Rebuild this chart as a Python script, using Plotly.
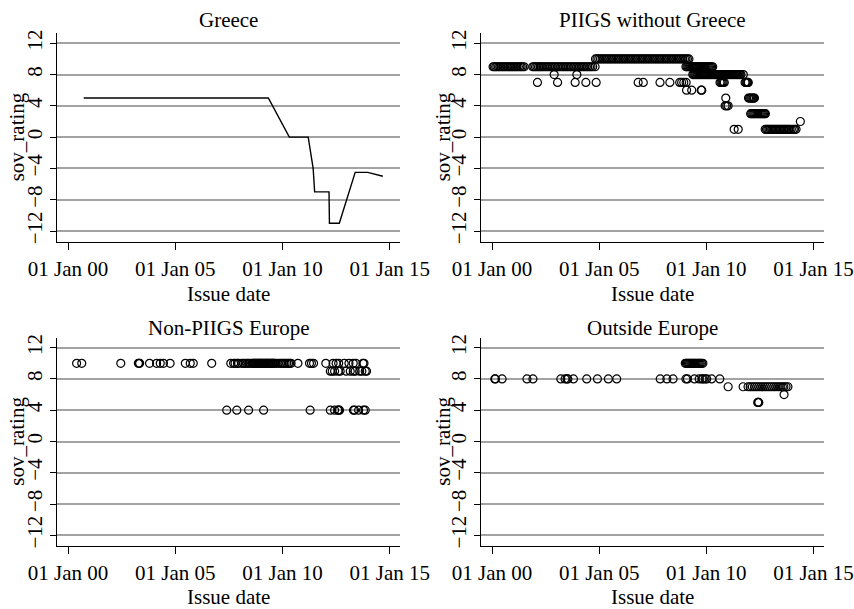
import plotly.graph_objects as go
import pandas as pd

# ---------------- data (years since 01 Jan 2000, sovereign rating) ----------------
greece_years = [0.73, 1.5, 2.2, 3.0, 3.8, 4.6, 5.5, 6.4, 7.3, 8.2, 9.34,
                10.32, 11.2, 11.43, 11.5, 12.17, 12.19, 12.65, 13.39, 13.98, 14.68]
greece_rating = [5, 5, 5, 5, 5, 5, 5, 5, 5, 5, 5,
                 0, 0, -4, -7, -7, -11, -11, -4.5, -4.5, -5]

# PIIGS without Greece
piigs_r10 = [4.83, 4.9, 4.98, 5.06, 5.14, 5.22, 5.3, 5.38, 5.46, 5.54, 5.62, 5.7, 5.78,
             5.86, 5.94, 6.02, 6.1, 6.18, 6.26, 6.34, 6.42, 6.5, 6.58, 6.66, 6.74, 6.82,
             6.9, 6.98, 7.06, 7.14, 7.22, 7.3, 7.38, 7.46, 7.54, 7.62, 7.7, 7.78, 7.86,
             7.94, 8.02, 8.1, 8.18, 8.26, 8.34, 8.42, 8.5, 8.58, 8.66, 8.74, 8.82, 8.9,
             8.98, 9.05, 9.12, 9.19]
piigs_r9 = [0.05, 0.1, 0.17, 0.23, 0.3, 0.36, 0.43, 0.5, 0.56, 0.62, 0.7, 0.76, 0.83,
            0.9, 0.96, 1.03, 1.1, 1.16, 1.23, 1.3, 1.36, 1.43, 1.5,
            1.9, 1.96, 2.03, 2.1, 2.17, 2.24, 2.3, 2.37, 2.45, 2.52, 2.6, 2.67, 2.75,
            2.82, 2.9, 2.97, 3.05, 3.12, 3.2, 3.27, 3.35, 3.42, 3.5, 3.57, 3.65, 3.72,
            3.8, 3.87, 3.95, 4.02, 4.1, 4.17, 4.25, 4.32, 4.4, 4.47, 4.55, 4.62, 4.7, 4.81,
            9.05, 9.1, 9.15, 9.2, 9.25, 9.3, 9.35, 9.4, 9.45, 9.5, 9.55, 9.6, 9.65, 9.7,
            9.75, 9.8, 9.85, 9.9, 9.95, 10.0, 10.05, 10.1, 10.15, 10.2, 10.25, 10.3]
piigs_r8 = [2.9, 3.96,
            9.37, 9.42, 9.47, 9.52, 9.57, 9.62, 9.67, 9.72, 9.77, 9.82, 9.87, 9.92, 9.97,
            10.02, 10.07, 10.12, 10.17, 10.22, 10.27, 10.32, 10.37, 10.42, 10.47, 10.52,
            10.57, 10.62, 10.67, 10.72, 10.77, 10.82, 10.87, 10.92, 10.97, 11.02, 11.07,
            11.12, 11.17, 11.22, 11.27, 11.32, 11.37, 11.42, 11.47, 11.52, 11.57, 11.62,
            11.73]
piigs_r7 = [2.12, 3.06, 3.88, 4.38, 4.86, 6.82, 7.06, 7.84, 8.3, 8.76, 8.85, 8.95, 9.06,
            10.64, 10.69, 10.74, 10.79, 10.84,
            11.81, 11.85, 11.89, 11.93, 11.96]
piigs_r6 = [9.08, 9.32, 9.76, 9.79]
piigs_r5 = [10.91, 11.97, 12.02, 12.07, 12.12, 12.17, 12.21, 12.25]
piigs_r4 = [10.88, 10.95, 11.02]
piigs_r3 = [12.07, 12.12, 12.17, 12.22, 12.27, 12.32, 12.37, 12.42, 12.47, 12.52,
            12.57, 12.62, 12.67, 12.72, 12.76]
piigs_r2 = [14.39]
piigs_r1 = [11.3, 11.49,
            12.75, 12.81, 12.87, 12.93, 12.99, 13.05, 13.11, 13.17, 13.23, 13.29, 13.35,
            13.41, 13.47, 13.53, 13.59, 13.65, 13.71, 13.77, 13.83, 13.9, 13.97, 14.06,
            14.12, 14.19]

# Non-PIIGS Europe
nonpiigs_r10 = [0.4, 0.64, 2.46, 3.28, 3.31, 3.34, 3.8, 4.13, 4.3, 4.45, 4.76, 5.47,
                5.7, 5.84, 6.7, 7.59, 7.72, 7.79, 7.9, 7.95, 8.1, 8.18, 8.26, 8.35, 8.42,
                8.5, 8.6, 8.64, 8.68, 8.72, 8.76, 8.8, 8.84, 8.88, 8.92, 8.96, 9.0, 9.04,
                9.08, 9.12, 9.16, 9.2, 9.24, 9.28, 9.32, 9.36, 9.4, 9.44, 9.48, 9.52,
                9.56, 9.6, 9.64, 9.7, 9.81, 9.9, 9.98, 10.05, 10.12, 10.2, 10.28, 10.33,
                10.4, 10.72, 11.26, 11.35, 11.45, 12.02, 12.36, 12.5, 12.62, 12.88, 13.1,
                13.3, 13.42, 13.75, 13.8]
nonpiigs_r9 = [12.23, 12.32, 12.43, 12.6, 12.69, 12.97, 13.16, 13.3, 13.39, 13.6, 13.7,
               13.86, 13.92]
nonpiigs_r4 = [7.4, 7.87, 8.42, 9.12, 11.29, 12.23, 12.43, 12.58, 12.62, 12.66, 13.31,
               13.36, 13.55, 13.78, 13.86]

# Outside Europe
outside_r10 = [9.02, 9.07, 9.12, 9.17, 9.22, 9.27, 9.32, 9.37, 9.42, 9.47, 9.52, 9.57,
               9.62, 9.67, 9.72, 9.78, 9.84]
outside_r8 = [0.13, 0.16, 0.47, 1.63, 1.91, 3.21, 3.41, 3.5, 3.54, 3.8, 4.42, 4.92, 5.43,
              5.82, 7.85, 8.16, 8.45, 9.05, 9.12, 9.45, 9.67, 9.8, 9.85, 9.95, 10.02,
              10.25, 10.63]
outside_r7 = [11.02, 11.72, 11.95, 12.05, 12.15, 12.25, 12.35, 12.45, 12.55, 12.65,
              12.75, 12.85, 12.95, 13.05, 13.15, 13.25, 13.35, 13.45, 13.55, 13.62,
              13.72, 13.81]
outside_r6 = [13.63]
outside_r5 = [12.4, 12.43, 12.45]

panel_titles = ["Greece", "PIIGS without Greece", "Non-PIIGS Europe", "Outside Europe"]
y_ticks = [-12, -8, -4, 0, 4, 8, 12]
y_ticktext = ["\u221212", "\u22128", "\u22124", "0", "4", "8", "12"]
x_ticks = ["2000-01-01", "2005-01-01", "2010-01-01", "2015-01-01"]
x_ticktext = ["01 Jan 00", "01 Jan 05", "01 Jan 10", "01 Jan 15"]

# ---------------- helpers ----------------
BASE = pd.Timestamp("2000-01-01")


def to_dates(yrs):
    return [BASE + pd.Timedelta(days=y * 365.25) for y in yrs]


def stack(groups):
    xs, ys = [], []
    for rating, yrs in groups:
        xs += to_dates(yrs)
        ys += [rating] * len(yrs)
    return xs, ys


W, H = 854, 609


def px_x(p):
    return p / W


def px_y(p):
    return 1 - p / H


FONT = "Liberation Serif"
FS = 21
fig = go.Figure()

fig.add_trace(go.Scatter(x=to_dates(greece_years), y=greece_rating, mode="lines",
                         line=dict(color="black", width=1.4), xaxis="x", yaxis="y",
                         showlegend=False))

marker = dict(symbol="circle-open", size=8, color="black", line=dict(width=1.2))
panels = [
    ("x2", "y2", [(10, piigs_r10), (9, piigs_r9), (8, piigs_r8), (7, piigs_r7), (6, piigs_r6),
                  (5, piigs_r5), (4, piigs_r4), (3, piigs_r3), (2, piigs_r2), (1, piigs_r1)]),
    ("x3", "y3", [(10, nonpiigs_r10), (9, nonpiigs_r9), (4, nonpiigs_r4)]),
    ("x4", "y4", [(10, outside_r10), (8, outside_r8), (7, outside_r7), (6, outside_r6),
                  (5, outside_r5)]),
]
for xa, ya, groups in panels:
    xs, ys = stack(groups)
    fig.add_trace(go.Scatter(x=xs, y=ys, mode="markers", marker=marker, xaxis=xa, yaxis=ya,
                             showlegend=False))

x_px = [(57.3, 400.0), (481.3, 823.7)]
y_px = [(33.1, 241.6), (337.5, 545.9)]
x_range = [BASE + pd.Timedelta(days=-0.5 * 365.25), BASE + pd.Timedelta(days=15.48 * 365.25)]

layout = dict(width=W, height=H, margin=dict(l=0, r=0, t=0, b=0, autoexpand=False),
              paper_bgcolor="white", plot_bgcolor="white", hovermode=False,
              font=dict(family=FONT, size=FS, color="black"))
annotations = []
for i in range(4):
    row, col = divmod(i, 2)
    sfx = "" if i == 0 else str(i + 1)
    xd = [px_x(x_px[col][0]), px_x(x_px[col][1])]
    yd = [px_y(y_px[row][1]), px_y(y_px[row][0])]
    layout["xaxis" + sfx] = dict(domain=xd, anchor="y" + sfx, type="date", range=x_range,
                                 tickvals=x_ticks, ticktext=x_ticktext, showgrid=False,
                                 zeroline=False, showline=True, linecolor="black", linewidth=1.2,
                                 ticks="outside", ticklen=7, tickwidth=1.2, tickcolor="black",
                                 tickfont=dict(family=FONT, size=FS), ticklabelstandoff=1,
                                 automargin=False)
    layout["yaxis" + sfx] = dict(domain=yd, anchor="x" + sfx, range=[-13.35, 13.3],
                                 tickvals=y_ticks, ticktext=y_ticktext, tickangle=-90,
                                 showgrid=True, gridcolor="#a3a3a3", gridwidth=1.5,
                                 zeroline=False, showline=True, linecolor="black", linewidth=1.2,
                                 ticks="outside", ticklen=6, tickwidth=1.2, tickcolor="black",
                                 tickfont=dict(family=FONT, size=FS), automargin=False)
    cx = (x_px[col][0] + x_px[col][1]) / 2
    top_px = 20 if row == 0 else 328
    annotations.append(dict(text=panel_titles[i], x=px_x(cx), y=px_y(top_px), xref="paper",
                            yref="paper", showarrow=False, xanchor="center", yanchor="middle",
                            font=dict(family=FONT, size=FS)))
    xt_px = 294 if row == 0 else 597
    annotations.append(dict(text="Issue date", x=px_x(cx), y=px_y(xt_px), xref="paper",
                            yref="paper", showarrow=False, xanchor="center", yanchor="middle",
                            font=dict(family=FONT, size=FS)))
    yt_x = 17 if col == 0 else 443
    annotations.append(dict(text="sov_rating", x=px_x(yt_x),
                            y=px_y((y_px[row][0] + y_px[row][1]) / 2), xref="paper",
                            yref="paper", showarrow=False, xanchor="center", yanchor="middle",
                            textangle=-90, font=dict(family=FONT, size=FS)))
layout["annotations"] = annotations
fig.update_layout(**layout)
fig.write_html("out.html", config={"displayModeBar": False},
               post_script="document.body.style.margin='0';document.body.style.overflow='hidden';")
